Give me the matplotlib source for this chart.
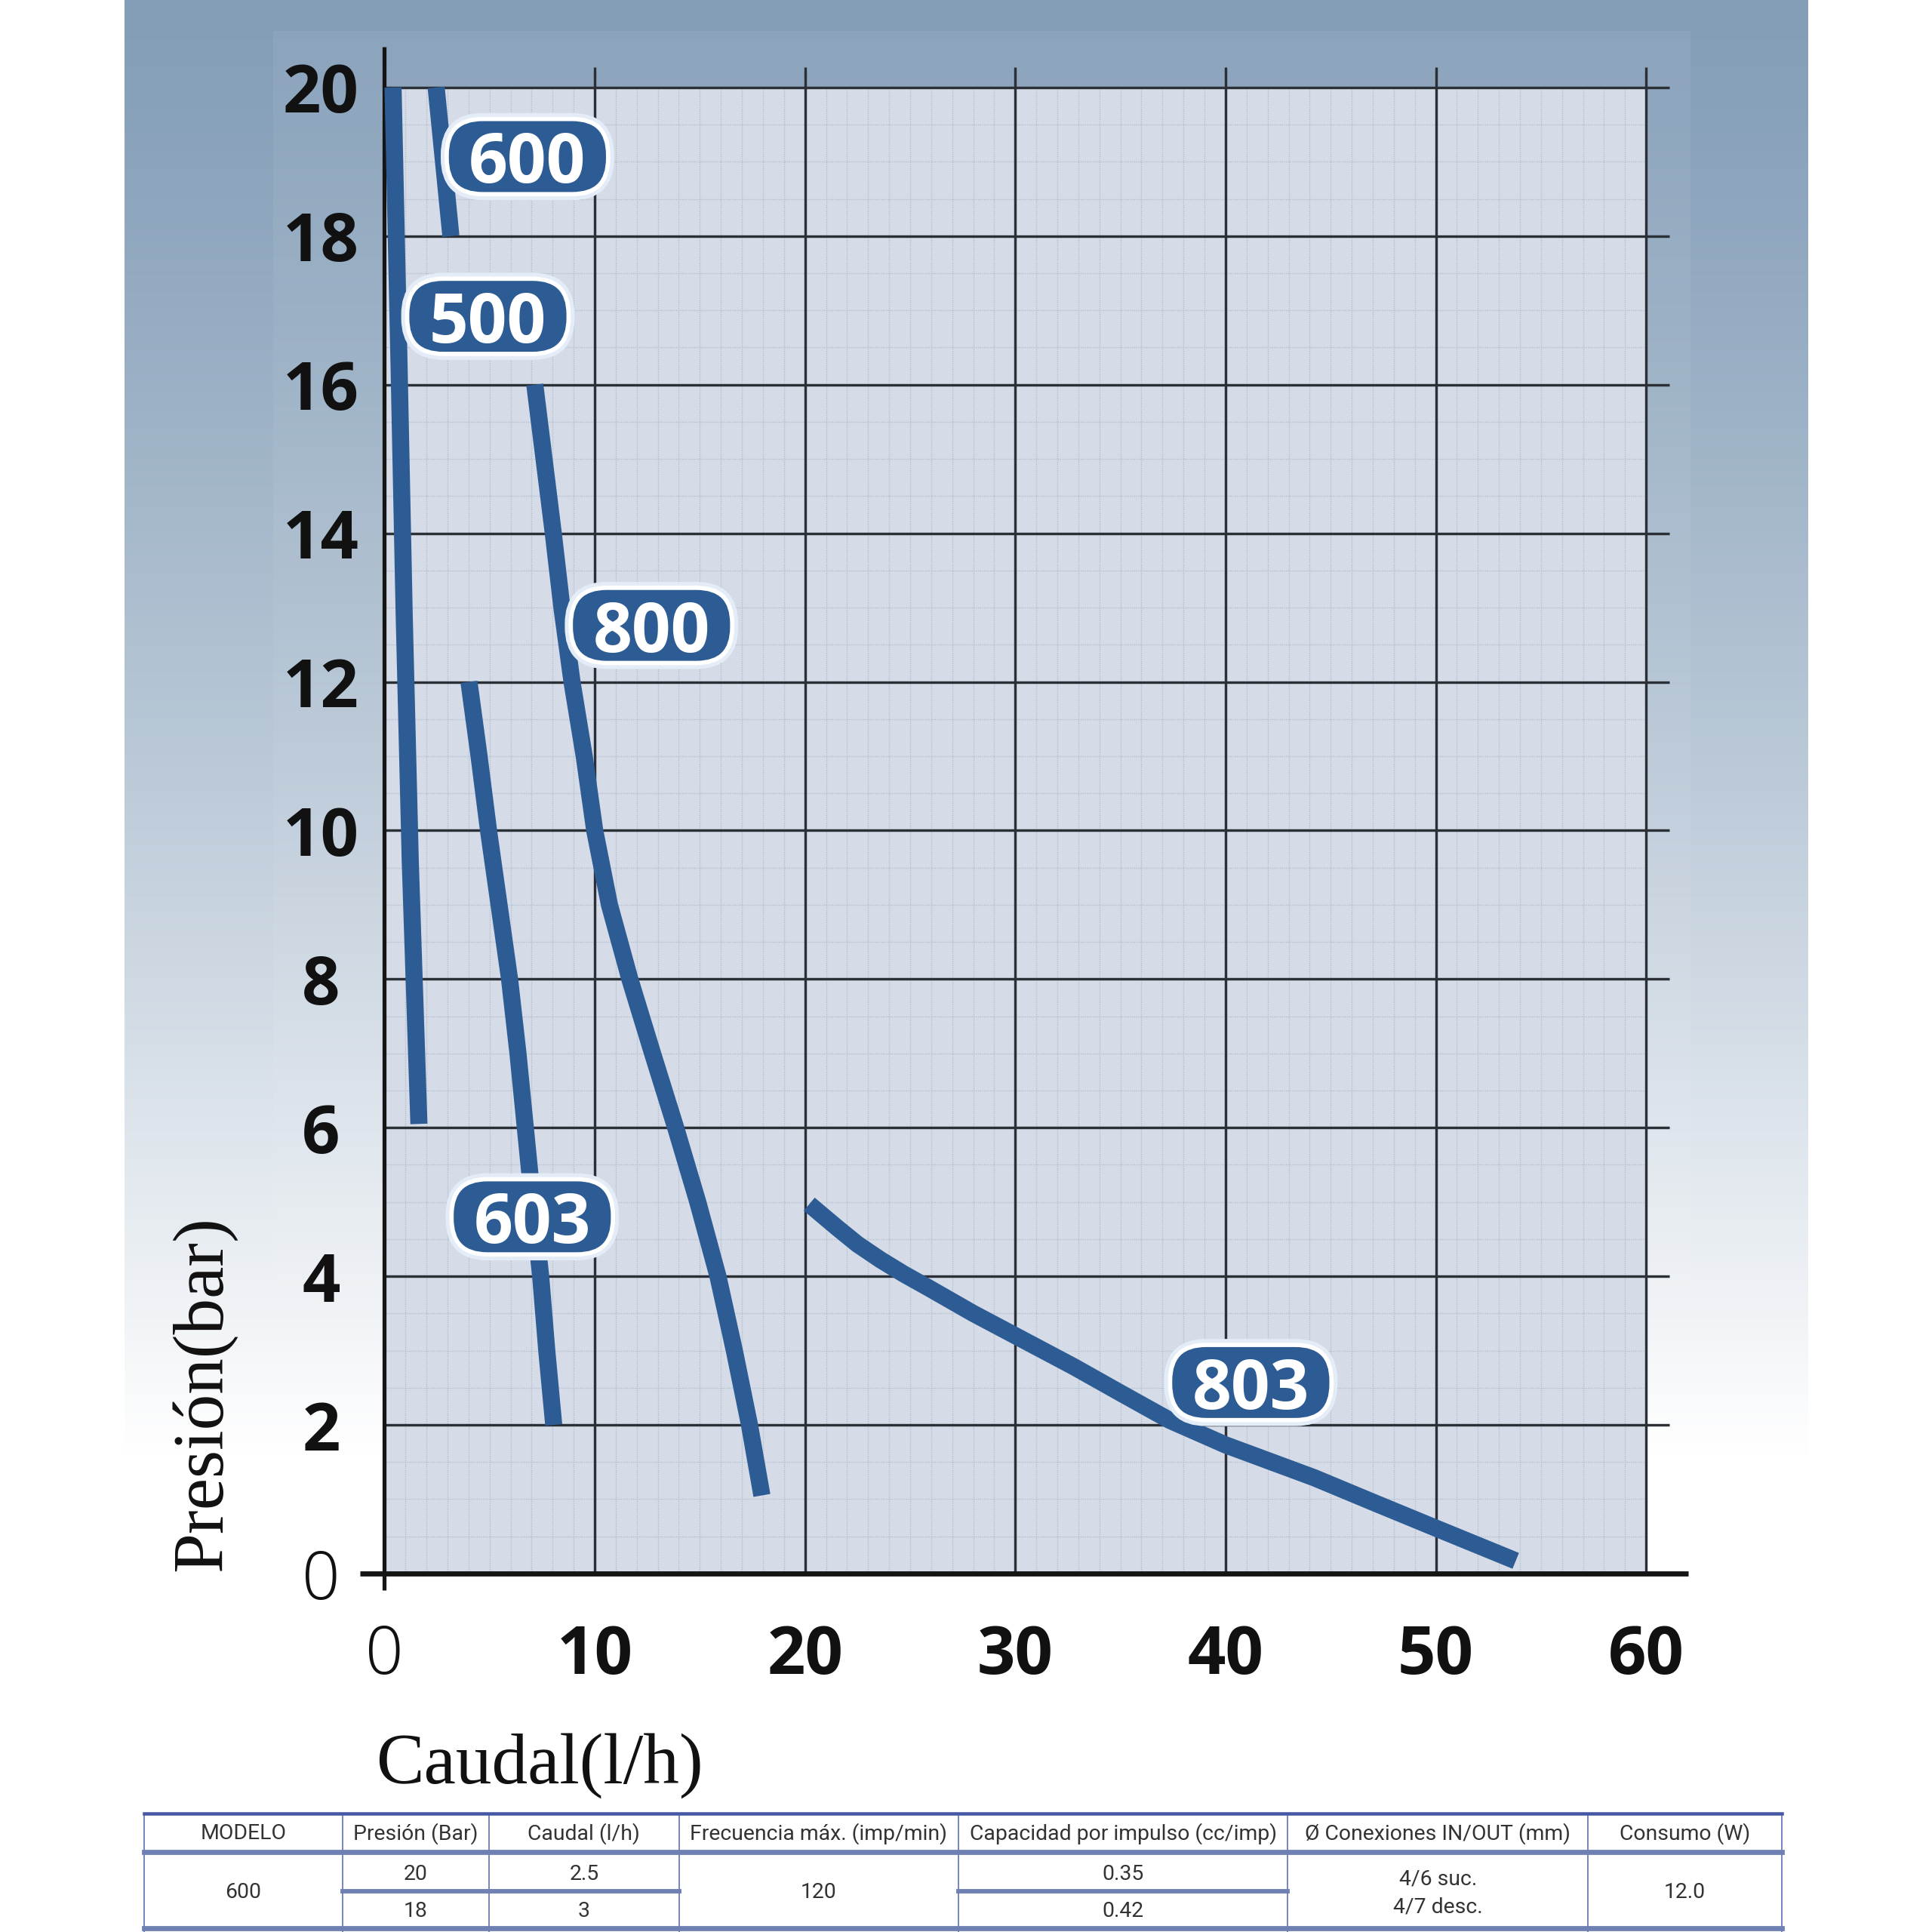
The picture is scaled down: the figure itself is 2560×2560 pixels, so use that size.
import matplotlib.pyplot as plt
import numpy as np
from matplotlib.patches import FancyBboxPatch, Rectangle
from matplotlib.transforms import ScaledTranslation

# curvas caudal (l/h) - presion (bar)
q_500 = [0.41, 0.70, 0.94, 1.23, 1.64]
p_500 = [20.0, 16.2, 12.9, 9.57, 6.05]
q_600 = [2.46, 3.16]
p_600 = [20.0, 18.0]
q_800 = [7.15, 8.03, 8.44, 8.92, 9.5, 10.0, 10.7, 11.67, 12.75, 13.85, 14.9, 15.86, 16.64, 17.36, 17.95]
p_800 = [16.0, 14.0, 13.0, 12.0, 11.0, 10.0, 9.0, 8.0, 7.0, 6.0, 5.0, 4.0, 3.0, 2.0, 1.05]
q_603 = [4.02, 4.5, 4.95, 5.45, 5.95, 6.35, 6.7, 7.05, 7.43, 7.72, 8.05]
p_603 = [12.0, 11.0, 10.0, 9.0, 8.0, 7.0, 6.0, 5.0, 4.0, 3.0, 2.0]
q_803 = [20.2, 21.5, 22.5, 23.6, 24.7, 25.9, 28.0, 30.0, 32.8, 35.06, 37.35, 40.0, 44.2, 47.0, 50.0, 53.8]
p_803 = [4.97, 4.66, 4.43, 4.22, 4.03, 3.84, 3.5, 3.2, 2.78, 2.42, 2.06, 1.73, 1.29, 0.96, 0.61, 0.17]

etiquetas = ["600", "500", "800", "603", "803"]
etiq_x = [6.8, 4.92, 12.7, 7.03, 41.2]
etiq_y = [19.07, 16.92, 12.76, 4.80, 2.57]

x_ticks = [0, 10, 20, 30, 40, 50, 60]
y_ticks = [0, 2, 4, 6, 8, 10, 12, 14, 16, 18, 20]

# tabla
cabecera = ["MODELO", "Presión (Bar)", "Caudal (l/h)", "Frecuencia máx. (imp/min)",
            "Capacidad por impulso (cc/imp)", "Ø Conexiones IN/OUT (mm)", "Consumo (W)"]
modelo = "600"
presion = ["20", "18"]
caudal = ["2.5", "3"]
frecuencia = "120"
capacidad = ["0.35", "0.42"]
conexiones = ["4/6 suc.", "4/7 desc."]
consumo = "12.0"

AZUL = "#2d5c94"
GRID = "#2b2f36"

fig = plt.figure(figsize=(15.68, 15.68), dpi=2560 / 15.68)

# fondo degradado
bg = fig.add_axes([0, 0, 1, 1], zorder=0)
bg.set_xlim(0, 1568)
bg.set_ylim(1568, 0)
bg.axis("off")
t = np.clip(np.linspace(0, 1465, 400) / 1180, 0, 1) ** 1.25
top = np.array([0x84, 0x9e, 0xb8]) / 255
col = top[None, :] * (1 - t[:, None]) + t[:, None]
grad = np.repeat(col[:, None, :], 2, axis=1)
bg.imshow(grad, extent=[101, 1467, 1465, 0], aspect="auto", interpolation="bilinear")
bg.add_patch(Rectangle((222, 25), 1150, 1275, facecolor="white", alpha=0.06, lw=0))

ax = fig.add_axes([312 / 1568, 1 - 1277 / 1568, 1024 / 1568, 1206 / 1568], zorder=1)
ax.set_facecolor("#d5dce7")
ax.set_xlim(0, 60)
ax.set_ylim(0, 20)
for s in ax.spines.values():
    s.set_visible(False)

# rejilla menor
for xv in np.arange(1, 60, 1):
    ax.axvline(xv, color="#b3bfcf", lw=0.6, ls=(0, (1, 1)), zorder=0.5)
for yv in np.arange(0.5, 20, 0.5):
    ax.axhline(yv, color="#b3bfcf", lw=0.6, ls=(0, (1, 1)), zorder=0.5)

# rejilla mayor
ax.hlines(y_ticks[1:], 0, 61.1, color=GRID, lw=1.5, zorder=1, clip_on=False)
ax.vlines(x_ticks[1:], 0, 20.27, color=GRID, lw=1.5, zorder=1, clip_on=False)
ax.plot([0, 0], [-0.22, 20.55], color="#151515", lw=2.3, zorder=2, clip_on=False,
        solid_capstyle="butt")
ax.plot([-1.17, 62.0], [0, 0], color="#151515", lw=3.0, zorder=2, clip_on=False,
        solid_capstyle="butt")

for q, p in [(q_500, p_500), (q_600, p_600), (q_800, p_800), (q_603, p_603), (q_803, p_803)]:
    ax.plot(q, p, color=AZUL, lw=10, solid_capstyle="butt", solid_joinstyle="round",
            zorder=3, clip_on=False)

# etiquetas tipo pastilla
for lab, xv, yv in zip(etiquetas, etiq_x, etiq_y):
    tr = fig.dpi_scale_trans + ScaledTranslation(xv, yv, ax.transData)
    w, h = 1.31, 0.61
    ax.add_patch(FancyBboxPatch((-w / 2, -h / 2), w, h,
                                boxstyle="round,pad=0,rounding_size=0.29",
                                facecolor="none", edgecolor="#e4edf7", lw=7,
                                transform=tr, zorder=3.9, clip_on=False))
    ax.add_patch(FancyBboxPatch((-w / 2, -h / 2), w, h,
                                boxstyle="round,pad=0,rounding_size=0.29",
                                facecolor=AZUL, edgecolor="white", lw=2.5,
                                transform=tr, zorder=4, clip_on=False))
    ax.text(xv, yv, lab, ha="center", va="center_baseline", color="white", fontsize=40,
            fontweight="bold", family="Open Sans", zorder=5)

ax.set_xticks(x_ticks)
ax.set_yticks(y_ticks)
ax.set_xticklabels([str(v) for v in x_ticks])
ax.set_yticklabels([str(v) for v in y_ticks])
ax.tick_params(axis="both", length=0)
ax.tick_params(axis="x", pad=29)
ax.tick_params(axis="y", pad=37)
for lbl in ax.get_xticklabels() + ax.get_yticklabels():
    lbl.set_family("Open Sans")
    lbl.set_fontsize(39)
    lbl.set_color("#111111")
    lbl.set_fontweight("light" if lbl.get_text() == "0" else "bold")
for lbl in ax.get_yticklabels():
    lbl.set_horizontalalignment("center")

# capa superior para textos y tabla (coordenadas en px de 1568)
ov = fig.add_axes([0, 0, 1, 1], zorder=3)
ov.set_xlim(0, 1568)
ov.set_ylim(1568, 0)
ov.axis("off")
ov.patch.set_alpha(0)

ov.text(305, 1447, "Caudal(l/h)", family="Liberation Serif", fontsize=42,
        ha="left", va="baseline", color="#111111")
ov.text(165, 1131, "Presión(bar)", family="Liberation Serif", fontsize=42,
        ha="center", va="center", rotation=90, color="#111111")

cols = [117, 278, 397, 551, 778, 1045, 1289, 1446]
LINEA = "#6b7cbc"
GRUESA = "#6f80b3"
for cx in cols:
    ov.plot([cx, cx], [1472, 1568], color=LINEA, lw=0.8)
ov.plot([117, 1446], [1472, 1472], color="#4658a4", lw=2.0)
ov.plot([117, 1446], [1503, 1503], color=GRUESA, lw=3.0)
ov.plot([117, 1446], [1565, 1565], color=GRUESA, lw=3.0)
for i in [1, 2, 4]:
    ov.plot([cols[i], cols[i + 1]], [1535, 1535], color=GRUESA, lw=2.6)

centros = [(cols[i] + cols[i + 1]) / 2 for i in range(7)]
kw = dict(family="Roboto", fontsize=12.5, color="#333333", ha="center", va="center")
for cx, txt in zip(centros, cabecera):
    ov.text(cx, 1488, txt, **kw)
ov.text(centros[0], 1536, modelo, **kw)
ov.text(centros[3], 1536, frecuencia, **kw)
ov.text(centros[6], 1536, consumo, **kw)
for j, yy in enumerate([1521, 1551]):
    ov.text(centros[1], yy, presion[j], **kw)
    ov.text(centros[2], yy, caudal[j], **kw)
    ov.text(centros[4], yy, capacidad[j], **kw)
ov.text(centros[5], 1525, conexiones[0], **kw)
ov.text(centros[5], 1548, conexiones[1], **kw)

fig.savefig("out.png", dpi=2560 / 15.68, facecolor="white")
